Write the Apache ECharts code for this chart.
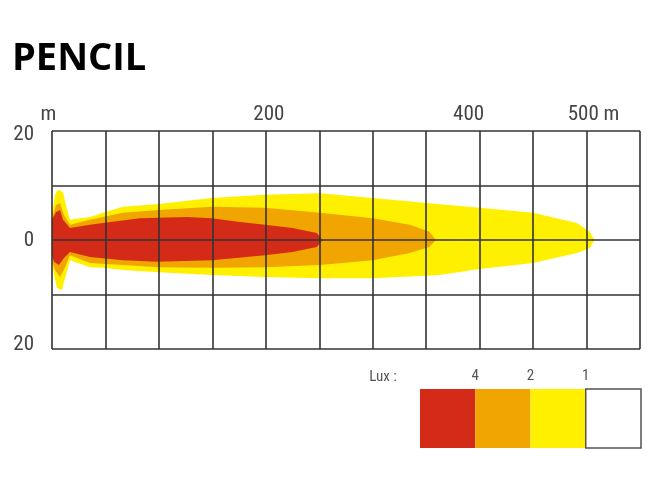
<!DOCTYPE html>
<html>
<head>
<meta charset="utf-8">
<script src="https://cdn.jsdelivr.net/npm/echarts@6/dist/echarts.min.js"></script>
<style>html,body{margin:0;padding:0;background:#fff}#c{width:650px;height:488px}</style>
</head>
<body>
<div id="c"></div>
<script>
// beam outlines: [distance (m), lateral offset (m)]
const yellowOutline = [
  [0,4.6],[2.8,8.3],[5.6,9.2],[10.3,8.8],[13,6.4],[16.8,3.7],[26,4.0],[35.5,4.2],[47.7,5.0],[66.4,6.1],[100,6.6],[149.5,7.7],[199,8.3],[250.5,8.6],[300,7.7],[350.5,6.8],[400,5.9],[450,5.0],[491,3.1],[503,1.5],[507.5,0],
  [503,-1.5],[491,-2.4],[450,-4.2],[400,-5.3],[362.6,-6.4],[300,-7.0],[250.5,-7.0],[199,-6.8],[149.5,-6.4],[100,-5.9],[66.4,-5.5],[47.7,-5.1],[35.5,-5.0],[16.8,-3.7],[13,-6.4],[9.3,-9.2],[4.7,-8.8],[1.9,-6.4],[0,-4]
];
const orangeOutline = [
  [0,4.0],[3.7,6.4],[7.5,6.8],[11.2,4.6],[16.8,2.8],[35.5,3.7],[66.4,5.0],[100,5.5],[149.5,6.1],[199,5.9],[250.5,5.0],[300,4.0],[334.6,2.8],[353,1.5],[359,0],
  [353,-1.3],[334.6,-2.4],[300,-3.7],[250.5,-4.6],[199,-5.0],[149.5,-5.1],[100,-5.0],[66.4,-4.6],[35.5,-4.2],[16.8,-2.8],[12,-5.1],[7.5,-6.8],[2.8,-5.5],[0,-3.7]
];
const redOutline = [
  [0,3.7],[3.7,5.1],[7.5,5.5],[10.3,3.7],[16.8,2.2],[35.5,2.8],[47.7,3.1],[82,4.0],[126,4.2],[149.5,4.0],[175.7,3.3],[199,2.8],[225,2.2],[247.7,1.3],[253,0],
  [247.7,-1.3],[225,-2.2],[199,-2.8],[149.5,-3.7],[98,-4.0],[66.4,-3.7],[35.5,-3.1],[16.8,-2.2],[11.2,-3.3],[6.5,-4.6],[1.9,-4.0],[0,-2.8]
];
const outlines = [yellowOutline, orangeOutline, redOutline];
const zoneColors = ['#fff000', '#f0a500', '#d42a18'];
const xTickLabels = {0: 'm', 200: '200', 400: '400', 500: '500 m'};
const yTickLabels = {20: '20', 0: '0', '-20': '20'};
const luxValues = ['4', '2', '1'];
const legendColors = ['#d42a18', '#f0a500', '#fff000', '#ffffff'];

const chart = echarts.init(document.getElementById('c'));
const cond = "'Roboto Condensed','Roboto',sans-serif";
const lab = {fontSize: 21, fontFamily: cond, color: '#444'};
chart.setOption({
  animation: false,
  backgroundColor: '#fff',
  graphic: [
    {type: 'text', left: 12, top: 40, style: {text: 'PENCIL', font: "bold 38px 'Open Sans'", fill: '#000'}},
    {type: 'text', x: 383, y: 377, style: {text: 'Lux :', font: "15px " + cond, fill: '#555', textAlign: 'center', textVerticalAlign: 'middle'}}
  ],
  grid: [
    {left: 52, right: 10, top: 131, height: 218},
    {left: 420, width: 221, top: 389, height: 59}
  ],
  xAxis: [
    {
      type: 'value', gridIndex: 0, min: 0, max: 550, interval: 50, position: 'top', z: 5,
      axisLine: {show: false}, axisTick: {show: false},
      splitLine: {show: true, lineStyle: {color: '#333', width: 1.6}},
      axisLabel: {
        margin: 6, ...lab,
        formatter: v => {
          if (v === 0) return '{a|m}';
          if (v === 200) return '{b|200}';
          if (v === 400) return '{c|400}';
          if (v === 500) return '{d|500 m}';
          return '';
        },
        rich: {
          a: {...lab, padding: [0, 7, 0, 0]},
          b: {...lab, padding: [0, 0, 0, 6]},
          c: {...lab, padding: [0, 22, 0, 0]},
          d: {...lab, padding: [0, 0, 0, 14]}
        }
      }
    },
    {
      type: 'value', gridIndex: 1, min: 0, max: 4, interval: 1, position: 'top',
      axisLine: {show: false}, axisTick: {show: false}, splitLine: {show: false},
      axisLabel: {margin: 5, color: '#555', fontSize: 15, fontFamily: cond,
        formatter: v => (v >= 1 && v <= 3) ? luxValues[v - 1] : ''}
    }
  ],
  yAxis: [
    {
      type: 'value', gridIndex: 0, min: -20, max: 20, interval: 10, z: 5,
      axisLine: {show: false}, axisTick: {show: false},
      splitLine: {show: true, lineStyle: {color: '#333', width: 1.6}},
      axisLabel: {
        margin: 18, ...lab,
        formatter: v => {
          if (v === 20) return '{t|20}';
          if (v === -20) return '{u|20}';
          if (v === 0) return '{z|0}';
          return '';
        },
        rich: {
          t: {...lab, padding: [8, 0, 0, 0]},
          u: {...lab, padding: [0, 0, 8, 0]},
          z: {...lab, padding: [2, 0, 0, 0]}
        }
      }
    },
    {type: 'value', gridIndex: 1, min: 0, max: 1, show: false}
  ],
  series: [
    {
      type: 'custom', xAxisIndex: 0, yAxisIndex: 0, z: 2,
      data: outlines.map((o, i) => [i]),
      renderItem: (params, api) => {
        const idx = params.dataIndex;
        const pts = outlines[idx].map(p => api.coord(p));
        return {type: 'polygon', shape: {points: pts}, style: {fill: zoneColors[idx], stroke: null}};
      }
    },
    {
      type: 'custom', xAxisIndex: 1, yAxisIndex: 1,
      data: legendColors.map((c, i) => [i]),
      renderItem: (params, api) => {
        const i = params.dataIndex;
        const a = api.coord([i, 1]);
        const b = api.coord([i + 1, 0]);
        const isWhite = legendColors[i] === '#ffffff';
        return {type: 'rect', shape: {x: a[0], y: a[1], width: b[0] - a[0], height: b[1] - a[1]},
          style: {fill: legendColors[i], stroke: isWhite ? '#5a5050' : null, lineWidth: isWhite ? 1.5 : 0}};
      }
    }
  ]
});
</script>
</body>
</html>
